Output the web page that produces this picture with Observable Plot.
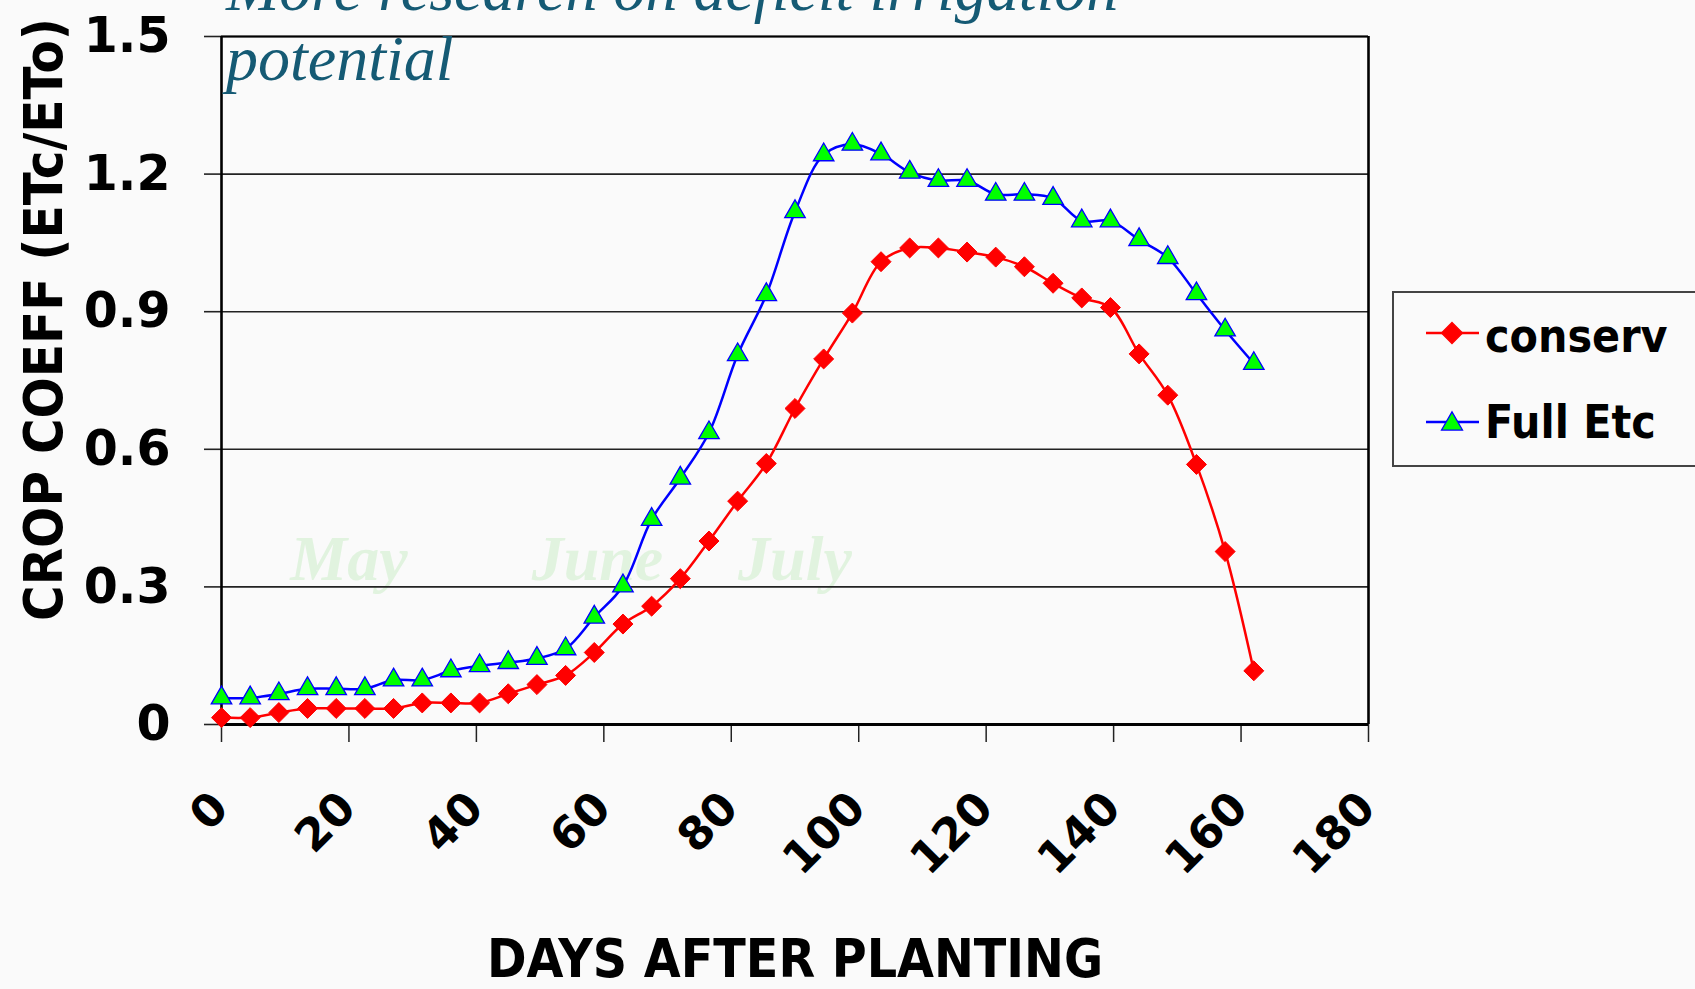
<!DOCTYPE html>
<html>
<head>
<meta charset="utf-8">
<script src="https://cdn.jsdelivr.net/npm/d3@7"></script>
<script src="https://cdn.jsdelivr.net/npm/@observablehq/plot@0.6"></script>
<style>
  html, body { margin: 0; padding: 0; background: #fafafa; overflow: hidden; }
  #wrap { position: relative; width: 1695px; height: 989px; overflow: hidden; }
  #chart { position: absolute; left: 0; top: 0; }
  #title { position: absolute; left: 226px; top: -46px; font-family: "Liberation Serif", serif; font-style: italic;
           font-size: 64px; line-height: 70px; color: #155a74; white-space: nowrap; }
  #legend { position: absolute; left: 1392px; top: 291px; overflow: hidden; }
  g[font-family*="Condensed"], text[font-family*="Condensed"] { font-stretch: condensed; }
</style>
</head>
<body>
<div id="wrap">
  <div id="chart"></div>
  <svg id="legend" width="303" height="177"></svg>
  <div id="title">More research on deficit irrigation<br>potential</div>
</div>
<script>
// ---- data ----
const days = [0, 4.5, 9, 13.5, 18, 22.5, 27, 31.5, 36, 40.5, 45, 49.5, 54, 58.5, 63, 67.5, 72, 76.5, 81, 85.5,
              90, 94.5, 99, 103.5, 108, 112.5, 117, 121.5, 126, 130.5, 135, 139.5, 144, 148.5, 153, 157.5, 162];
const conserv = [0.015, 0.015, 0.026, 0.035, 0.035, 0.035, 0.035, 0.047, 0.047, 0.047, 0.067, 0.087, 0.107, 0.157,
                 0.219, 0.258, 0.318, 0.40, 0.487, 0.569, 0.689, 0.797, 0.897, 1.009, 1.039, 1.039, 1.03, 1.019,
                 0.998, 0.962, 0.93, 0.909, 0.808, 0.718, 0.567, 0.377, 0.117];
const fullEtc = [0.058, 0.058, 0.067, 0.078, 0.078, 0.078, 0.097, 0.097, 0.117, 0.128, 0.135, 0.144, 0.165, 0.234,
                 0.302, 0.447, 0.537, 0.636, 0.806, 0.937, 1.118, 1.242, 1.265, 1.244, 1.204, 1.186, 1.186, 1.156,
                 1.156, 1.147, 1.098, 1.098, 1.057, 1.018, 0.939, 0.86, 0.787];
const seriesNames = ["conserv", "Full Etc"];
const xTicks = [0, 20, 40, 60, 80, 100, 120, 140, 160, 180];
const xTickLabels = ["0", "20", "40", "60", "80", "100", "120", "140", "160", "180"];
const yTicks = [0, 0.3, 0.6, 0.9, 1.2, 1.5];
const yTickLabels = ["0", "0.3", "0.6", "0.9", "1.2", "1.5"];
const monthNames = ["May", "June", "July"];
const monthDays = [20, 59, 90];
const xTitle = "DAYS AFTER PLANTING";
const yTitle = "CROP COEFF (ETc/ETo)";

const COND = "DejaVu Sans Condensed, DejaVu Sans, sans-serif";
const RED = "#ff0000", BLUE = "#0000ff", GREEN = "#00ff00";

const chart = Plot.plot({
  width: 1695,
  height: 989,
  marginLeft: 221,
  marginRight: 327,
  marginTop: 36,
  marginBottom: 265,
  style: { background: "transparent", fontFamily: "DejaVu Sans", color: "#000", overflow: "visible" },
  x: { domain: [0, 180] },
  y: { domain: [0, 1.5] },
  marks: [
    Plot.text(monthNames, { x: monthDays, y: 0.3, text: d => d, textAnchor: "middle", lineAnchor: "middle", dy: -27,
      fontFamily: "Liberation Serif", fontWeight: "bold", fontStyle: "italic", fontSize: 64, fill: "#e1f3df" }),
    Plot.gridY({ ticks: yTicks, stroke: "#222", strokeOpacity: 1, strokeWidth: 1.6 }),
    Plot.axisY({ ticks: yTicks, tickSize: 17, tickPadding: 34, stroke: "#222", strokeWidth: 1.6,
      tickFormat: d => yTickLabels[yTicks.indexOf(d)], label: null,
      fontSize: 49, fontWeight: "bold", fontFamily: "DejaVu Sans", fill: "#000" }),
    Plot.axisX({ ticks: xTicks, tickSize: 18, stroke: "#222", strokeWidth: 1.5, tickFormat: () => "", label: null }),
    Plot.text(xTicks, { x: d => d, frameAnchor: "bottom", text: (d, i) => xTickLabels[i], rotate: -45,
      textAnchor: "end", lineAnchor: "middle", dx: -1, dy: 76, fontSize: 45, fontWeight: "bold",
      fontFamily: "DejaVu Sans", fill: "#000" }),
    Plot.ruleY([1.5], { stroke: "#000", strokeWidth: 2 }),
    Plot.ruleX([0, 180], { stroke: "#000", strokeWidth: 2.6 }),
    Plot.ruleY([0], { stroke: "#000", strokeWidth: 3 }),
    Plot.line(days, { x: days, y: conserv, stroke: RED, strokeWidth: 2.5, curve: "catmull-rom" }),
    Plot.line(days, { x: days, y: fullEtc, stroke: BLUE, strokeWidth: 2.5, curve: "catmull-rom" }),
    Plot.dot(days, { x: days, y: conserv, symbol: "diamond2", r: 9, fill: RED, stroke: RED, strokeWidth: 1 }),
    Plot.dot(days, { x: days, y: fullEtc, symbol: "triangle", r: 7.6, fill: GREEN, stroke: BLUE, strokeWidth: 1.3 }),
    Plot.text([yTitle], { frameAnchor: "left", text: d => d, rotate: -90, textAnchor: "middle", lineAnchor: "middle",
      dx: -177, dy: -61, fontSize: 54, fontWeight: "bold", fontFamily: COND, fill: "#000" }),
    Plot.text([xTitle], { frameAnchor: "bottom", text: d => d, textAnchor: "middle", lineAnchor: "middle",
      dy: 236, fontSize: 53, fontWeight: "bold", fontFamily: COND, fill: "#000" })
  ]
});
document.getElementById("chart").appendChild(chart);

// ---- legend ----
const leg = d3.select("#legend");
leg.append("rect").attr("x", 1).attr("y", 1).attr("width", 420).attr("height", 174)
  .attr("fill", "none").attr("stroke", "#444").attr("stroke-width", 2);
const legItems = [
  { name: seriesNames[0], color: RED, fill: RED, sym: d3.symbolDiamond2, size: 281, y: 42, ty: 61 },
  { name: seriesNames[1], color: BLUE, fill: GREEN, sym: d3.symbolTriangle, size: 190, y: 131, ty: 147 }
];
const g = leg.selectAll("g.item").data(legItems).join("g").attr("class", "item");
g.append("line").attr("x1", 34).attr("x2", 87).attr("y1", d => d.y).attr("y2", d => d.y)
  .attr("stroke", d => d.color).attr("stroke-width", 2.4);
g.append("path").attr("d", d => d3.symbol(d.sym, d.size)())
  .attr("transform", d => `translate(60,${d.y + (d.sym === d3.symbolTriangle ? 2 : 0)})`)
  .attr("fill", d => d.fill).attr("stroke", d => d.color).attr("stroke-width", 1.3);
g.append("text").attr("x", 93).attr("y", d => d.ty).text(d => d.name)
  .attr("font-family", COND).attr("font-weight", "bold").attr("font-size", 46).attr("fill", "#000");
</script>
</body>
</html>
